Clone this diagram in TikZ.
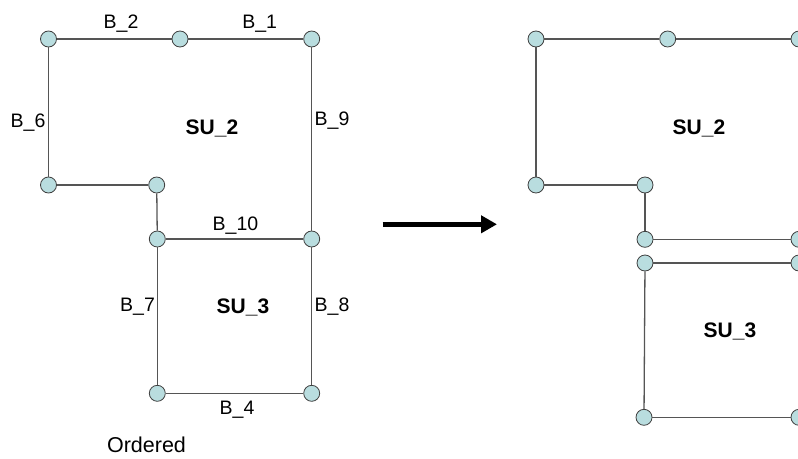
\documentclass[tikz,border=0pt]{standalone}
\usepackage{fontspec}
\setmainfont{Liberation Sans}
\usetikzlibrary{arrows.meta}
\definecolor{vfill}{HTML}{B9DDDF}
\definecolor{vline}{HTML}{555555}
\begin{document}
\begin{tikzpicture}[x=1pt,y=-1pt,
  vtx/.style={circle,minimum size=16pt,inner sep=0pt,fill=vfill,draw=black!75,line width=0.8pt},
  edge/.style={draw=vline,line width=1.3pt},
  lbl/.style={inner sep=0pt,font=\fontsize{19.5}{22}\selectfont},
  su/.style={inner sep=0pt,font=\fontsize{21}{24}\selectfont\bfseries},
  captxt/.style={inner sep=0pt,font=\fontsize{21.5}{24}\selectfont}]
\useasboundingbox (0,0) rectangle (798,458);
% ---- left diagram ----
\node[vtx] (a1) at (48.5,39) {};
\node[vtx] (a2) at (180,39) {};
\node[vtx] (a3) at (311.7,39) {};
\node[vtx] (a4) at (48.5,185) {};
\node[vtx] (a5) at (156.7,185) {};
\node[vtx] (a6) at (157.3,239) {};
\node[vtx] (a7) at (311.7,239) {};
\node[vtx] (a8) at (157.3,393.3) {};
\node[vtx] (a9) at (311.7,393.3) {};
\draw[edge] (a1) -- (a2);
\draw[edge] (a2) -- (a3);
\draw[edge] (a3) -- (a7);
\draw[edge] (a1) -- (a4);
\draw[edge] (a4) -- (a5);
\draw[edge] (a5) -- (a6);
\draw[edge] (a6) -- (a7);
\draw[edge] (a6) -- (a8);
\draw[edge] (a7) -- (a9);
\draw[edge] (a8) -- (a9);
\node[lbl] (lB2) at (121,24) {B\_2};
\node[lbl] (lB1) at (259.7,24) {B\_1};
\node[lbl] (lB6) at (28,123) {B\_6};
\node[lbl] (lB9) at (332,121) {B\_9};
\node[su]  (lSU2) at (212,128) {SU\_2};
\node[lbl] (lB10) at (235.5,226) {B\_10};
\node[lbl] (lB7) at (137.5,307) {B\_7};
\node[su]  (lSU3) at (243,307) {SU\_3};
\node[lbl] (lB8) at (332,307) {B\_8};
\node[lbl] (lB4) at (237,410) {B\_4};
\node[captxt] (ord) at (146.5,445) {Ordered};
% ---- arrow ----
\coordinate (arS) at (382.7,224.3);
\coordinate (arE) at (497,224.3);
\draw[line width=5.5pt,-{Triangle[length=16pt,width=17pt]}] (arS) -- (arE);
% ---- right diagram ----
\node[vtx] (b1) at (536,39) {};
\node[vtx] (b2) at (667.7,39) {};
\node[vtx] (b3) at (799,39) {};
\node[vtx] (b4) at (536,185) {};
\node[vtx] (b5) at (645,185) {};
\node[vtx] (b6) at (645,239.3) {};
\node[vtx] (b7) at (799,239.3) {};
\node[vtx] (b8) at (645,263) {};
\node[vtx] (b9) at (799,263) {};
\node[vtx] (b10) at (644,417.3) {};
\node[vtx] (b11) at (799,417.3) {};
\draw[edge] (b1) -- (b2);
\draw[edge] (b2) -- (b3);
\draw[edge] (b1) -- (b4);
\draw[edge] (b4) -- (b5);
\draw[edge] (b5) -- (b6);
\draw[edge] (b6) -- (b7);
\draw[edge] (b8) -- (b9);
\draw[edge] (b8) -- (b10);
\draw[edge] (b10) -- (b11);
\node[su] (rSU2) at (699,128) {SU\_2};
\node[su] (rSU3) at (730,331.7) {SU\_3};
\end{tikzpicture}
\end{document}
